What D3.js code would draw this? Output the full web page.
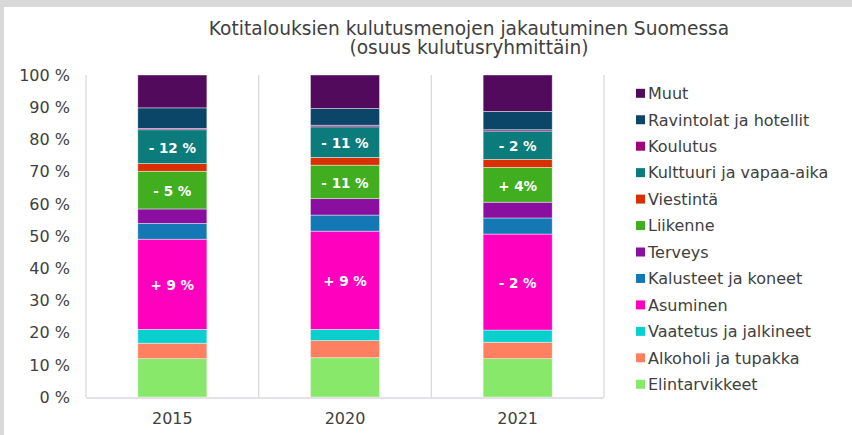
<!DOCTYPE html>
<html>
<head>
<meta charset="utf-8">
<script src="https://cdn.jsdelivr.net/npm/d3@7"></script>
<style>
  html, body { margin: 0; padding: 0; background: #d9d9d9; }
  svg { display: block; }
</style>
</head>
<body>
<svg id="chart" width="852" height="435"></svg>
<script>
// ---- Data ----
const years = ["2015", "2020", "2021"];
// series listed bottom to top
const seriesNames = [
  "Elintarvikkeet", "Alkoholi ja tupakka", "Vaatetus ja jalkineet", "Asuminen",
  "Kalusteet ja koneet", "Terveys", "Liikenne", "Viestintä",
  "Kulttuuri ja vapaa-aika", "Koulutus", "Ravintolat ja hotellit", "Muut"
];
const elintarvikkeet = [11.9, 12.2, 11.9];
const alkoholi       = [4.8, 5.3, 5.1];
const vaatetus       = [4.3, 3.5, 3.8];
const asuminen       = [28.0, 30.5, 29.8];
const kalusteet      = [4.9, 5.0, 5.0];
const terveys        = [4.5, 5.1, 4.9];
const liikenne       = [11.7, 10.4, 10.8];
const viestinta      = [2.4, 2.4, 2.5];
const kulttuuri      = [10.5, 9.5, 8.8];
const koulutus       = [0.4, 0.5, 0.4];
const ravintolat     = [6.4, 5.2, 5.7];
const muut           = [10.2, 10.4, 11.3];
const seriesValues = [elintarvikkeet, alkoholi, vaatetus, asuminen, kalusteet, terveys,
  liikenne, viestinta, kulttuuri, koulutus, ravintolat, muut];
const seriesColors = ["#87e86a", "#ff8060", "#0acfcf", "#ff00bf", "#1478b4", "#8a0fa0",
  "#41ae1f", "#d83000", "#0b7b7b", "#a0007a", "#0b4669", "#520a5c"];
// change labels shown inside segments
const changeLabels = [
  { series: "Kulttuuri ja vapaa-aika", labels: ["- 12 %", "- 11 %", "- 2 %"] },
  { series: "Liikenne", labels: ["- 5 %", "- 11 %", "+ 4%"] },
  { series: "Asuminen", labels: ["+ 9 %", "+ 9 %", "- 2 %"] }
];
const yTicks = [0, 10, 20, 30, 40, 50, 60, 70, 80, 90, 100];
const titleLines = ["Kotitalouksien kulutusmenojen jakautuminen Suomessa", "(osuus kulutusryhmittäin)"];

// ---- Build table ----
const table = years.map((y, i) => {
  const row = { year: y };
  seriesNames.forEach((s, k) => row[s] = seriesValues[k][i]);
  return row;
});
const stacked = d3.stack().keys(seriesNames)(table);
const color = d3.scaleOrdinal().domain(seriesNames).range(seriesColors);

// ---- Layout ----
const svg = d3.select("#chart");
const textColor = "#404040";
const font = "'DejaVu Sans', Verdana, sans-serif";
svg.append("rect").attr("x", 4).attr("y", 7).attr("width", 848).attr("height", 428).attr("fill", "#ffffff");

const plot = { left: 86, right: 604, top: 75, bottom: 397 };
const x = d3.scaleBand().domain(years).range([plot.left, plot.right]).paddingInner(0).paddingOuter(0);
const y = d3.scaleLinear().domain([0, 100]).range([plot.bottom, plot.top]);
const barW = x.bandwidth() * 0.4;

// vertical gridlines between categories
const bounds = years.map(d => x(d)).concat([x(years[years.length - 1]) + x.bandwidth()]);
svg.append("g").selectAll("line").data(bounds).join("line")
  .attr("x1", d => d).attr("x2", d => d)
  .attr("y1", y(100)).attr("y2", y(0))
  .attr("stroke", "#d9d9de").attr("stroke-width", 1.3);

// bars
const gBars = svg.append("g");
stacked.forEach(layer => {
  gBars.append("g").attr("fill", color(layer.key))
    .selectAll("rect").data(layer).join("rect")
    .attr("x", d => x(d.data.year) + (x.bandwidth() - barW) / 2)
    .attr("width", barW)
    .attr("y", d => y(d[1]))
    .attr("height", d => y(d[0]) - y(d[1]))
    .attr("stroke", "rgba(255,255,255,0.55)")
    .attr("stroke-width", 0.75);
});

// x axis line
svg.append("line")
  .attr("x1", plot.left).attr("x2", plot.right)
  .attr("y1", y(0) + 1).attr("y2", y(0) + 1)
  .attr("stroke", "#d9d9de").attr("stroke-width", 1.5);

// y tick labels
svg.append("g").selectAll("text").data(yTicks).join("text")
  .attr("x", 70).attr("y", d => y(d)).attr("dy", "0.36em")
  .attr("text-anchor", "end")
  .attr("font-family", font).attr("font-size", 16).attr("fill", textColor)
  .text(d => d + " %");

// x labels
svg.append("g").selectAll("text").data(years).join("text")
  .attr("x", d => x(d) + x.bandwidth() / 2).attr("y", 424)
  .attr("text-anchor", "middle")
  .attr("font-family", font).attr("font-size", 16).attr("fill", textColor)
  .text(d => d);

// segment labels
changeLabels.forEach(cl => {
  const layer = stacked.find(l => l.key === cl.series);
  svg.append("g").selectAll("text").data(layer).join("text")
    .attr("x", d => x(d.data.year) + x.bandwidth() / 2)
    .attr("y", d => y((d[0] + d[1]) / 2) + 1)
    .attr("dy", "0.36em")
    .attr("text-anchor", "middle")
    .attr("font-family", font).attr("font-size", 13.5).attr("font-weight", "bold")
    .attr("fill", "#ffffff")
    .text((d, i) => cl.labels[i]);
});

// title
svg.append("g").selectAll("text").data(titleLines).join("text")
  .attr("x", 469).attr("y", (d, i) => 35 + i * 19)
  .attr("text-anchor", "middle")
  .attr("font-family", font).attr("font-size", 18.6).attr("fill", textColor)
  .text(d => d);

// legend (top to bottom: reverse of stacking)
const legendItems = seriesNames.slice().reverse();
const lg = svg.append("g").selectAll("g").data(legendItems).join("g")
  .attr("transform", (d, i) => `translate(636, ${93.3 + i * 26.45})`);
lg.append("rect").attr("x", 0).attr("y", -4.5).attr("width", 9).attr("height", 9)
  .attr("fill", d => color(d));
lg.append("text").attr("x", 12).attr("y", 0).attr("dy", "0.36em")
  .attr("font-family", font).attr("font-size", 16).attr("fill", textColor)
  .text(d => d);
</script>
</body>
</html>
